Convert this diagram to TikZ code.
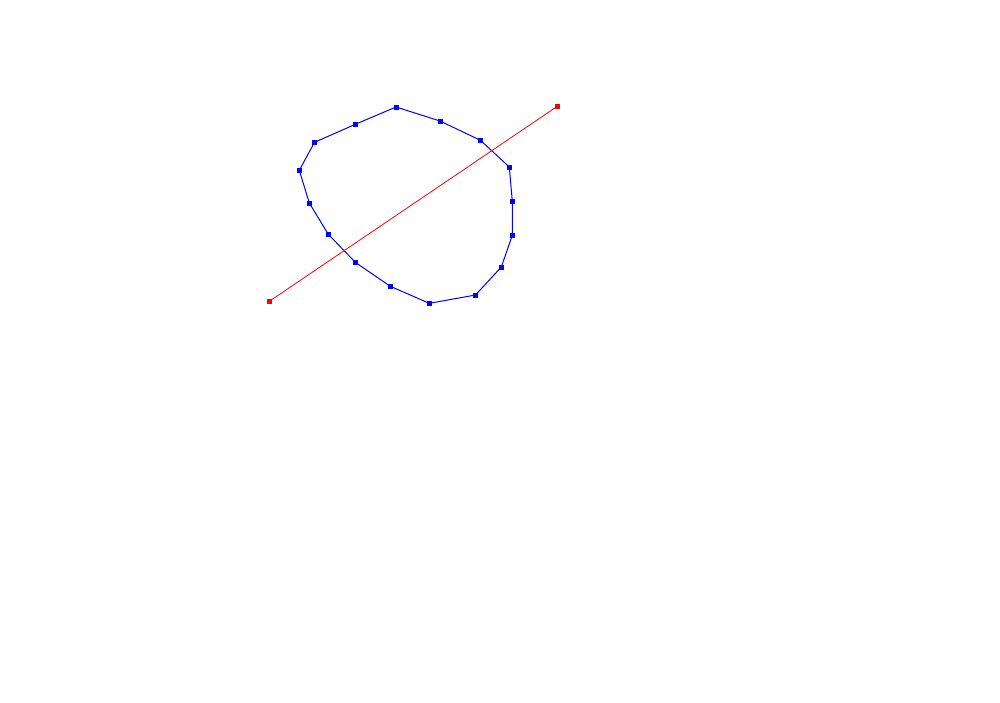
\documentclass[tikz,border=0pt]{standalone}
\begin{document}
\begin{tikzpicture}[x=1pt,y=-1pt,
  bmark/.style={fill=blue,inner sep=0pt,minimum size=5pt,draw=none,rectangle},
  rmark/.style={fill=red,inner sep=0pt,minimum size=5pt,draw=none,rectangle},
  bline/.style={draw=blue,line width=1pt},
  rline/.style={draw=red,line width=0.8pt}]
\useasboundingbox[fill=white] (0,0) rectangle (1000,702);
\coordinate (p1) at (396,107);
\coordinate (p2) at (440,121);
\coordinate (p3) at (480.5,140.3);
\coordinate (p4) at (509.3,167);
\coordinate (p5) at (512.3,201.2);
\coordinate (p6) at (512.3,235.3);
\coordinate (p7) at (501.3,267);
\coordinate (p8) at (475.5,295);
\coordinate (p9) at (429.3,303.3);
\coordinate (p10) at (390.3,286.3);
\coordinate (p11) at (355.3,262.3);
\coordinate (p12) at (328.3,234.3);
\coordinate (p13) at (309.3,203);
\coordinate (p14) at (299.3,170.3);
\coordinate (p15) at (314.5,142.3);
\coordinate (p16) at (355.3,124.3);
\coordinate (r1) at (269.3,301.3);
\coordinate (r2) at (557.3,106.3);
\draw[bline] (p1) -- (p2) -- (p3) -- (p4) -- (p5) -- (p6) -- (p7) -- (p8) -- (p9) -- (p10) -- (p11) -- (p12) -- (p13) -- (p14) -- (p15) -- (p16) -- cycle;
\draw[rline] (r1) -- (r2);
\foreach \i in {1,...,16} {\node[bmark] (m\i) at (p\i) {};}
\node[rmark] (rm1) at (r1) {};
\node[rmark] (rm2) at (r2) {};
\end{tikzpicture}
\end{document}
